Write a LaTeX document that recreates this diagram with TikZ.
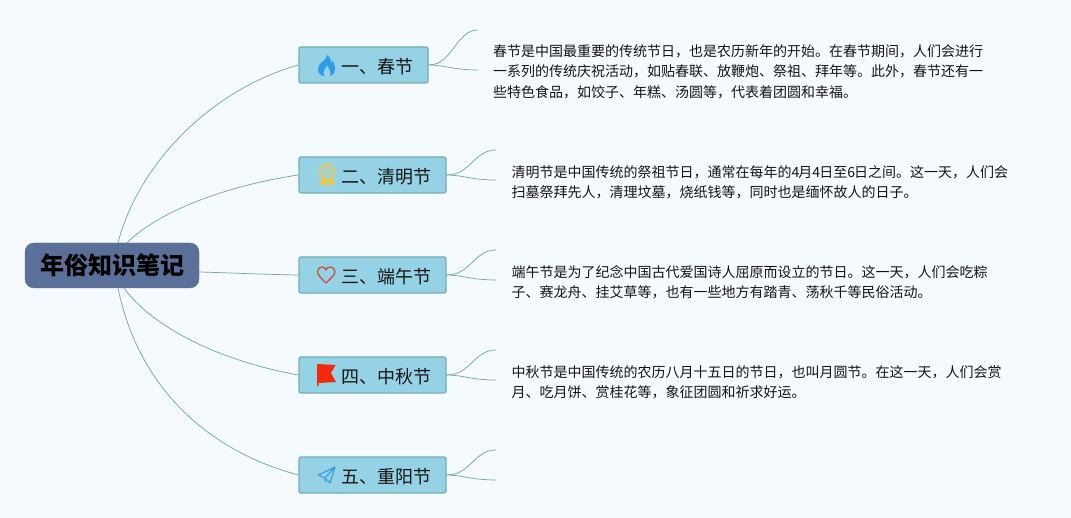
\documentclass[tikz,border=0pt]{standalone}
\usepackage{fontspec}
\usetikzlibrary{calc}
\setmainfont{Noto Sans CJK SC}
\definecolor{bgc}{HTML}{F5FAFF}
\definecolor{rootc}{HTML}{5A7099}
\definecolor{boxc}{HTML}{96D2E6}
\definecolor{boxl}{HTML}{74AFB0}
\definecolor{linkc}{HTML}{6FA599}
\definecolor{txtc}{HTML}{141414}
\definecolor{flamec}{HTML}{2E9BE6}
\definecolor{medalc}{HTML}{E6C850}
\definecolor{heartc}{HTML}{C8503C}
\definecolor{flagc}{HTML}{F02A0A}
\definecolor{planec}{HTML}{3A9FE0}
\tikzset{
  x=1pt,y=-1pt,
  rootbox/.style={draw=rootc,fill=rootc,rounded corners=9pt,minimum width=174pt,minimum height=45pt,inner sep=0pt,font=\fontsize{24pt}{28pt}\selectfont\bfseries,text=black},
  branch/.style={draw=boxl,line width=1.3pt,fill=boxc,rounded corners=2pt,minimum height=36pt,inner sep=0pt,font=\fontsize{18pt}{22pt}\selectfont,text=txtc},
  para/.style={anchor=north west,inner sep=0pt,align=left,text=txtc,font=\fontsize{14pt}{20.5pt}\selectfont},
  link/.style={draw=linkc,line width=0.7pt},
  lab/.style={anchor=west,inner sep=0pt,font=\fontsize{18pt}{22pt}\selectfont,text=txtc},
}
\begin{document}
\begin{tikzpicture}
\useasboundingbox (0,0) rectangle (1071,518);
\fill[bgc] (0,0) rectangle (1071,518);
\node[rootbox] (root) at (112,265.5) {\raisebox{-2pt}{年俗知识笔记}};
\node[branch,minimum width=129pt] (b1) at (363.5,65) {};
\node[branch,minimum width=147pt] (b2) at (372.5,175) {};
\node[branch,minimum width=147pt] (b3) at (372.5,275) {};
\node[branch,minimum width=147pt] (b4) at (372.5,375) {};
\node[branch,minimum width=147pt] (b5) at (372.5,475) {};
\node[lab] (l1) at (341,67) {一、春节};
\node[lab] (l2) at (341,177) {二、清明节};
\node[lab] (l3) at (341,277) {三、端午节};
\node[lab] (l4) at (341,377) {四、中秋节};
\node[lab] (l5) at (341,477) {五、重阳节};
\node[para] (t1) at (493,44) {春节是中国最重要的传统节日，也是农历新年的开始。在春节期间，人们会进行\\一系列的传统庆祝活动，如贴春联、放鞭炮、祭祖、拜年等。此外，春节还有一\\些特色食品，如饺子、年糕、汤圆等，代表着团圆和幸福。};
\node[para] (t2) at (511.5,165) {清明节是中国传统的祭祖节日，通常在每年的4\kern-1pt月4\kern-1pt日至6\kern-1pt日之间。这一天，人们会\\扫墓祭拜先人，清理坟墓，烧纸钱等，同时也是缅怀故人的日子。};
\node[para] (t3) at (511.5,265) {端午节是为了纪念中国古代爱国诗人屈原而设立的节日。这一天，人们会吃粽\\子、赛龙舟、挂艾草等，也有一些地方有踏青、荡秋千等民俗活动。};
\node[para] (t4) at (511.5,365) {中秋节是中国传统的农历八月十五日的节日，也叫月圆节。在这一天，人们会赏\\月、吃月饼、赏桂花等，象征团圆和祈求好运。};
% root links
\draw[link] ([xshift=6pt]root.north) .. controls (138,165) and (210,90) .. (b1.west);
\draw[link] ([xshift=15pt]root.north) .. controls (160,210) and (230,185) .. (b2.west);
\draw[link] ([yshift=-6.5pt]root.east) .. controls (235,273) and (265,274.5) .. (b3.west);
\draw[link] ([xshift=12pt]root.south) .. controls (155,330) and (225,362) .. (b4.west);
\draw[link] ([xshift=6pt]root.south) .. controls (138,385) and (205,450) .. (b5.west);
% free ends
\coordinate (e1a) at (478,30); \coordinate (e1b) at (478,70);
\coordinate (e2a) at (496,150); \coordinate (e2b) at (496,180);
\coordinate (e3a) at (496,250); \coordinate (e3b) at (496,280);
\coordinate (e4a) at (496,350); \coordinate (e4b) at (496,380);
\coordinate (e5a) at (496,450); \coordinate (e5b) at (496,480);
\foreach \n in {1,...,5}{
  \draw[link] (b\n.east) .. controls +(24,0) and ($(e\n a)+(-22,0)$) .. (e\n a);
  \draw[link] (b\n.east) .. controls +(16,0) and ($(e\n b)+(-25,0)$) .. (e\n b);
}
% icons
\fill[flamec] (327,55) .. controls (328,60) and (318,62) .. (318,69) .. controls (318,73) and (321,76) .. (324,76) .. controls (322,72) and (325,69) .. (327,65) .. controls (329,69) and (332,72) .. (330,76) .. controls (333,75) and (335.5,72) .. (335,67) .. controls (335,64) and (333,62) .. (332,60) .. controls (332,63) and (331,64) .. (331,64) .. controls (331,60) and (330,57) .. (327,55) -- cycle;
% medal
\draw[medalc,line width=1.8pt] (327,172) circle[radius=7.6];
\draw[medalc,line width=1.1pt] (327,172) circle[radius=3.4];
\fill[medalc] (322,179) -- (318,184) -- (322.5,184.5) -- (325,186.5) -- (327,182) -- (329,186.5) -- (331.5,184.5) -- (336,184) -- (332,179) -- (327,181) -- cycle;
% heart
\draw[heartc,line width=1.3pt,line join=round] (326,283) .. controls (321,278) and (317.5,275) .. (317.5,271.5) .. controls (317.5,268.5) and (320,267) .. (322,267) .. controls (324,267) and (325.5,268) .. (326,270) .. controls (326.5,268) and (328,267) .. (330,267) .. controls (332.5,267) and (335,268.5) .. (335,271.5) .. controls (335,275) and (331,278) .. (326,283) -- cycle;
% flag
\fill[flagc] (317,364) -- (335.5,365) -- (331,373) -- (336,382) -- (318.5,383) -- (318.5,386) -- (317,386) -- cycle;
% plane
\draw[planec,line width=1.2pt,line join=round] (335,467) -- (318.5,475) -- (325,478) -- (330,483) -- cycle (335,467) -- (325,478) -- (325.5,482);
\end{tikzpicture}
\end{document}
